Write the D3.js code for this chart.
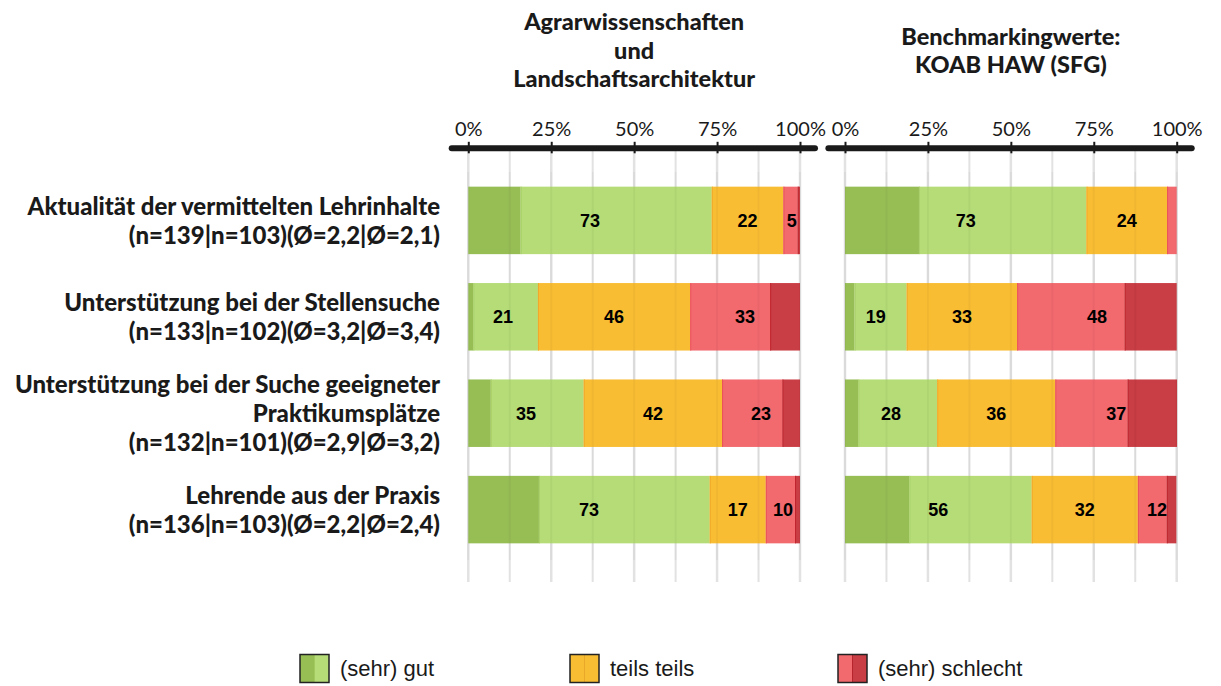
<!DOCTYPE html>
<html><head><meta charset="utf-8">
<script src="https://cdn.jsdelivr.net/npm/d3@7"></script>
<style>html,body{margin:0;padding:0;background:#fff;}svg{display:block;}</style>
</head><body>
<svg id="chart" width="1221" height="686"></svg>
<script>
// ---------- DATA ----------
const categories = ["Aktualität", "Stellensuche", "Praktikum", "Praxis"];
const categoryLines = [
  ["Aktualität der vermittelten Lehrinhalte", "(n=139|n=103)(Ø=2,2|Ø=2,1)"],
  ["Unterstützung bei der Stellensuche", "(n=133|n=102)(Ø=3,2|Ø=3,4)"],
  ["Unterstützung bei der Suche geeigneter", "Praktikumsplätze", "(n=132|n=101)(Ø=2,9|Ø=3,2)"],
  ["Lehrende aus der Praxis", "(n=136|n=103)(Ø=2,2|Ø=2,4)"]
];
const panelTitles = [
  ["Agrarwissenschaften", "und", "Landschaftsarchitektur"],
  ["Benchmarkingwerte:", "KOAB HAW (SFG)"]
];
const tickValues = [0, 25, 50, 75, 100];
const gridValues = [0, 12.5, 25, 37.5, 50, 62.5, 75, 87.5, 100];
const seriesNames = ["sehr gut", "gut", "teils teils", "schlecht", "sehr schlecht"];
const legendNames = ["(sehr) gut", "teils teils", "(sehr) schlecht"];

// left panel (Agrarwissenschaften und Landschaftsarchitektur), percent
const leftSehrGut      = [15.8, 1.5, 6.8, 21.3];
const leftGut          = [57.6, 19.5, 28.0, 51.5];
const leftTeils        = [21.6, 45.9, 41.7, 16.9];
const leftSchlecht     = [4.3, 24.1, 18.2, 8.8];
const leftSehrSchlecht = [0.7, 9.0, 5.3, 1.5];
const leftLabelsGut      = [73, 21, 35, 73];
const leftLabelsTeils    = [22, 46, 42, 17];
const leftLabelsSchlecht = [5, 33, 23, 10];

// right panel (Benchmarkingwerte KOAB HAW), percent
const rightSehrGut      = [22.3, 2.9, 4.0, 19.4];
const rightGut          = [50.5, 15.7, 23.8, 36.9];
const rightTeils        = [24.3, 33.3, 35.6, 32.0];
const rightSchlecht     = [2.9, 32.4, 21.8, 8.7];
const rightSehrSchlecht = [0.0, 15.7, 14.9, 2.9];
const rightLabelsGut      = [73, 19, 28, 56];
const rightLabelsTeils    = [24, 33, 36, 32];
const rightLabelsSchlecht = [null, 48, 37, 12];

// ---------- STYLE ----------
const colors = ["#97bd55", "#b5dc77", "#f9bd33", "#f2696e", "#c93d44"];
const edgeColors = ["#97bd55", "#a9d06a", "#f0a92a", "#ea5259", "#c0242c"];
const calibri = "Lato, 'Open Sans', sans-serif";
const arial = "'Liberation Sans', Arial, sans-serif";

const svg = d3.select("#chart");

const y = d3.scaleBand().domain(categories).range([172.2, 557.8]).paddingInner(0.3).paddingOuter(0.15);

const panels = [
  { x0: 468.3, x1: 800, series: [leftSehrGut, leftGut, leftTeils, leftSchlecht, leftSehrSchlecht],
    labels: [leftLabelsGut, leftLabelsTeils, leftLabelsSchlecht], title: panelTitles[0], titleY: [30, 58.5, 87] },
  { x0: 845, x1: 1176.7, series: [rightSehrGut, rightGut, rightTeils, rightSchlecht, rightSehrSchlecht],
    labels: [rightLabelsGut, rightLabelsTeils, rightLabelsSchlecht], title: panelTitles[1], titleY: [44.5, 73] }
];

panels.forEach(p => {
  const x = d3.scaleLinear().domain([0, 100]).range([p.x0, p.x1]);
  const g = svg.append("g");

  // gridlines
  g.append("g").selectAll("line").data(gridValues).join("line")
    .attr("x1", d => x(d)).attr("x2", d => x(d))
    .attr("y1", 151).attr("y2", 582)
    .attr("stroke", "#e2e2e2").attr("stroke-width", d => d % 25 === 0 ? 2.5 : 2);

  // stacked bars
  categories.forEach((cat, i) => {
    let acc = 0;
    const segs = p.series.map((s, k) => { const a = acc; acc += s[i]; return { k, a, b: acc }; });
    const row = g.append("g");
    row.selectAll("rect").data(segs.filter(s => s.b - s.a > 0)).join("rect")
      .attr("x", s => x(s.a)).attr("width", s => x(s.b) - x(s.a))
      .attr("y", y(cat)).attr("height", y.bandwidth())
      .attr("fill", s => colors[s.k]);
    row.selectAll("line.edge").data(segs.filter(s => s.k > 0 && s.b - s.a > 0)).join("line")
      .attr("class", "edge")
      .attr("x1", s => x(s.a) + 0.5).attr("x2", s => x(s.a) + 0.5)
      .attr("y1", y(cat)).attr("y2", y(cat) + y.bandwidth())
      .attr("stroke", s => edgeColors[s.k]).attr("stroke-width", 1);

    // labels centered on groups
    const groups = [
      { a: 0, b: p.series[0][i] + p.series[1][i], lab: p.labels[0][i] },
      { a: p.series[0][i] + p.series[1][i], b: p.series[0][i] + p.series[1][i] + p.series[2][i], lab: p.labels[1][i] },
      { a: p.series[0][i] + p.series[1][i] + p.series[2][i], b: acc, lab: p.labels[2][i] }
    ];
    row.selectAll("text").data(groups.filter(d => d.lab !== null)).join("text")
      .attr("x", d => (x(d.a) + x(d.b)) / 2)
      .attr("y", y(cat) + y.bandwidth() / 2 + 6.5)
      .attr("text-anchor", "middle")
      .attr("font-family", arial).attr("font-weight", "bold").attr("font-size", 18)
      .attr("fill", "#000").text(d => d.lab);
  });

  // faint gridlines showing through bars
  g.append("g").selectAll("line").data(gridValues).join("line")
    .attr("x1", d => x(d)).attr("x2", d => x(d))
    .attr("y1", 172).attr("y2", 560)
    .attr("stroke", "rgba(0,0,0,0.035)").attr("stroke-width", 2);

  // axis
  const axis = d3.axisTop(x).tickValues(tickValues).tickFormat(d => d + "%").tickSizeOuter(0).tickSize(0);
  const ag = g.append("g").attr("transform", "translate(0,148.3)").call(axis);
  ag.select(".domain").remove();
  ag.append("line").attr("x1", p.x0 - 16.6).attr("x2", p.x1 + 15).attr("y1", 0).attr("y2", 0)
    .attr("stroke", "#1a1a1a").attr("stroke-width", 6).attr("stroke-linecap", "round");
  ag.selectAll(".tick line").remove();
  ag.selectAll(".tick").append("line").attr("y1", -6.5).attr("y2", 5)
    .attr("stroke", "#1a1a1a").attr("stroke-width", 2);
  ag.selectAll(".tick text").attr("y", -12).attr("dy", null)
    .attr("font-family", calibri).attr("font-size", 20).attr("fill", "#1a1a1a");

  // title
  g.append("g").selectAll("text").data(p.title).join("text")
    .attr("x", (p.x0 + p.x1) / 2).attr("y", (d, j) => p.titleY[j])
    .attr("text-anchor", "middle").attr("font-family", calibri).attr("font-weight", 900)
    .attr("font-size", 23.5).attr("fill", "#1a1a1a").text(d => d);
});

// category labels
categories.forEach((cat, i) => {
  const lines = categoryLines[i];
  const cy = y(cat) + y.bandwidth() / 2;
  svg.append("g").selectAll("text").data(lines).join("text")
    .attr("x", 440).attr("y", (d, j) => cy + (j - (lines.length - 1) / 2) * 29 + 9)
    .attr("text-anchor", "end").attr("font-family", calibri).attr("font-weight", 900)
    .attr("font-size", 24).attr("fill", "#1a1a1a").text(d => d);
});

// legend
const legendX = [300, 570, 838];
const legendFills = [[colors[0], colors[1]], [colors[2], colors[2]], [colors[3], colors[4]]];
const legendMid = ["#a2c95f", "#eaa82a", "#b8242c"];
const lg = svg.append("g");
legendNames.forEach((name, i) => {
  const gx = legendX[i];
  lg.append("rect").attr("x", gx).attr("y", 654.5).attr("width", 14.5).attr("height", 28).attr("fill", legendFills[i][0]);
  lg.append("rect").attr("x", gx + 14.5).attr("y", 654.5).attr("width", 14.5).attr("height", 28).attr("fill", legendFills[i][1]);
  lg.append("line").attr("x1", gx + 14.5).attr("x2", gx + 14.5).attr("y1", 654.5).attr("y2", 682.5)
    .attr("stroke", legendMid[i]).attr("stroke-width", 1);
  lg.append("rect").attr("x", gx).attr("y", 654.5).attr("width", 29).attr("height", 28)
    .attr("fill", "none").attr("stroke", "#222").attr("stroke-width", 1.5);
  lg.append("text").attr("x", gx + 40).attr("y", 676).attr("font-family", arial)
    .attr("font-size", 22).attr("fill", "#1a1a1a").text(name);
});
</script>
</body></html>
